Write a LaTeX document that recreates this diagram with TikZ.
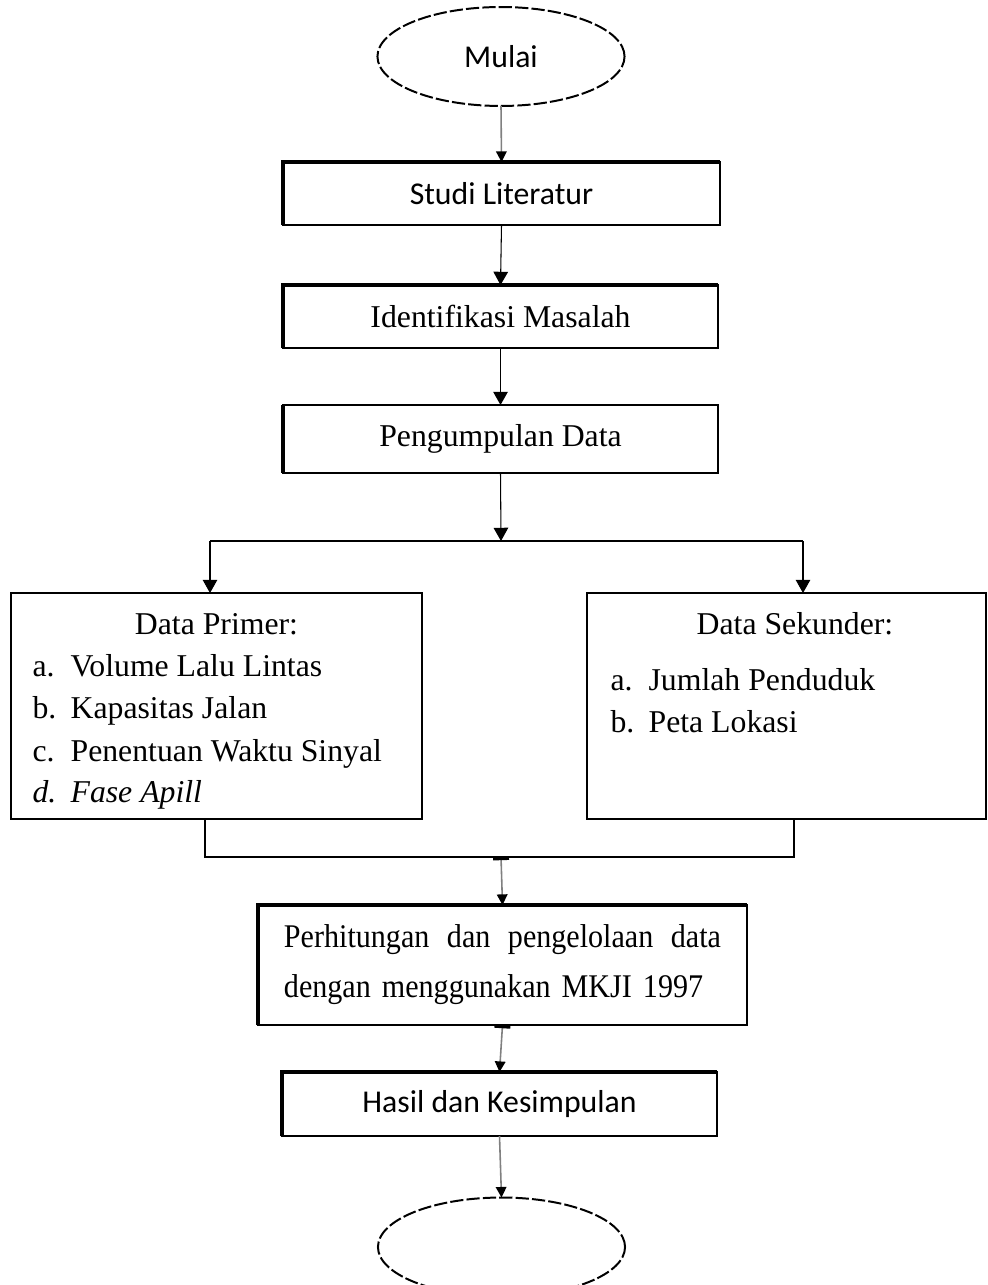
\documentclass[tikz,border=0pt]{standalone}
\usepackage{fontspec}
\setmainfont{Liberation Serif}
\newfontfamily\calibri{Carlito}
\newfontfamily\serifsempit[FakeStretch=0.91]{Liberation Serif}
\usetikzlibrary{arrows.meta,shapes.geometric}
\newcommand{\butir}[2]{\makebox[14.4pt][l]{#1}#2}

\begin{document}
\begin{tikzpicture}[x=0.378pt,y=-0.378pt,>={Triangle[width=5.5pt,length=5pt]},
  kotak/.style={draw,line width=0.55pt,outer sep=0pt,inner sep=0pt},
  terminal/.style={ellipse,draw,dash pattern=on 5pt off 1.2pt,line width=0.75pt,
    minimum width=93.4pt,minimum height=37.4pt,inner sep=0pt,outer sep=0pt},
  serif/.style={font=\fontsize{12}{14}\selectfont},
  sans/.style={font=\calibri\fontsize{12}{14}\selectfont},
  tepi/.style={line width=1.2pt},
  garis/.style={line width=0.75pt},
  panah/.style={->,line width=0.4pt},
  panahabu/.style={-{Triangle[width=4pt,length=4pt,color=black]},draw=gray,line width=0.6pt}]

\useasboundingbox (0,0) rectangle (988,1285);

% ---------------- mulai ----------------
\node[terminal,sans] (mulai) at (501,56.5) {Mulai};

% ---------------- tahapan awal ----------------
\node[kotak,sans,minimum width=165.2pt,minimum height=23.8pt] (studi) at (501.5,193.5) {Studi Literatur};
\node[kotak,serif,minimum width=164.4pt,minimum height=23.8pt] (identifikasi) at (500.5,316.5) {Identifikasi Masalah};
\node[kotak,serif,minimum width=164.4pt,minimum height=25.7pt] (pengumpulan) at (500.5,439) {Pengumpulan Data};

\draw[tepi] (studi.south west) -- (studi.north west) -- (studi.north east);
\draw[tepi] (identifikasi.south west) -- (identifikasi.north west) -- (identifikasi.north east);
\draw[tepi] (pengumpulan.south west) -- (pengumpulan.north west);

\draw[panahabu] (mulai.south) -- (studi.north);
\draw[panah] (studi.south) -- (identifikasi.north);
\draw[panah] (identifikasi.south) -- (pengumpulan.north);

% ---------------- data ----------------
\node[kotak,garis,minimum width=155.4pt,minimum height=85.4pt] (primer) at (216.5,706) {};
\node[kotak,garis,minimum width=150.8pt,minimum height=85.4pt] (sekunder) at (786.5,706) {};

\node[serif,anchor=base,inner sep=0pt] (primerjudul) at (216.5,634) {Data Primer:};
\node[serif,anchor=base west,inner sep=0pt] (primera) at (32,676) {\butir{a.}{Volume Lalu Lintas}};
\node[serif,anchor=base west,inner sep=0pt] (primerb) at (32,718) {\butir{b.}{Kapasitas Jalan}};
\node[serif,anchor=base west,inner sep=0pt] (primerc) at (32,761) {\butir{c.}{Penentuan Waktu Sinyal}};
\node[serif,anchor=base west,inner sep=0pt] (primerd) at (32,802) {\itshape\butir{d.}{Fase Apill}};

\node[serif,anchor=base,inner sep=0pt] (sekunderjudul) at (795,634) {Data Sekunder:};
\node[serif,anchor=base west,inner sep=0pt] (sekundera) at (610,690) {\butir{a.}{Jumlah Penduduk}};
\node[serif,anchor=base west,inner sep=0pt] (sekunderb) at (610,732) {\butir{b.}{Peta Lokasi}};

\coordinate (cabang) at (501,541);
\coordinate (cabangkiri) at (210,541);
\coordinate (cabangkanan) at (803,541);

\draw[panah] (pengumpulan.south) -- (cabang);
\draw[garis] (cabangkiri) -- (cabangkanan);
\draw[panah] (cabangkiri) -- (cabangkiri |- primer.north);
\draw[panah] (cabangkanan) -- (cabangkanan |- sekunder.north);

% ---------------- gabung ----------------
\coordinate (gabung) at (501,857);
\coordinate (gabungkiri) at (205,857);
\coordinate (gabungkanan) at (794,857);

\draw[garis] (gabungkiri |- primer.south) -- (gabungkiri) -- (gabungkanan) -- (gabungkanan |- sekunder.south);

% ---------------- pengolahan ----------------
\node[kotak,minimum width=184.8pt,minimum height=45.4pt,align=left,text width=165.2pt,
  font=\serifsempit\fontsize{12.5}{18.9}\selectfont] (perhitungan) at (502.5,965)
  {Perhitungan\hfill dan\hfill pengelolaan\hfill data\\dengan menggunakan MKJI 1997};
\node[kotak,sans,minimum width=164.4pt,minimum height=24.2pt] (hasil) at (499.5,1104) {Hasil dan Kesimpulan};

\draw[tepi] (perhitungan.south west) -- (perhitungan.north west) -- (perhitungan.north east);
\draw[tepi] (hasil.south west) -- (hasil.north west) -- (hasil.north east);

\draw[panahabu,{Bar[width=6pt,line width=1.2pt,color=black]}-{Triangle[width=4pt,length=4pt,color=black]}] (gabung) -- (perhitungan.north);
\draw[panahabu,{Bar[width=6pt,line width=1.2pt,color=black]}-{Triangle[width=4pt,length=4pt,color=black]}] (perhitungan.south) -- (hasil.north);

% ---------------- selesai ----------------
\node[terminal] (selesai) at (501.5,1247) {};
\draw[panahabu] (hasil.south) -- (selesai.north);

\end{tikzpicture}
\end{document}
